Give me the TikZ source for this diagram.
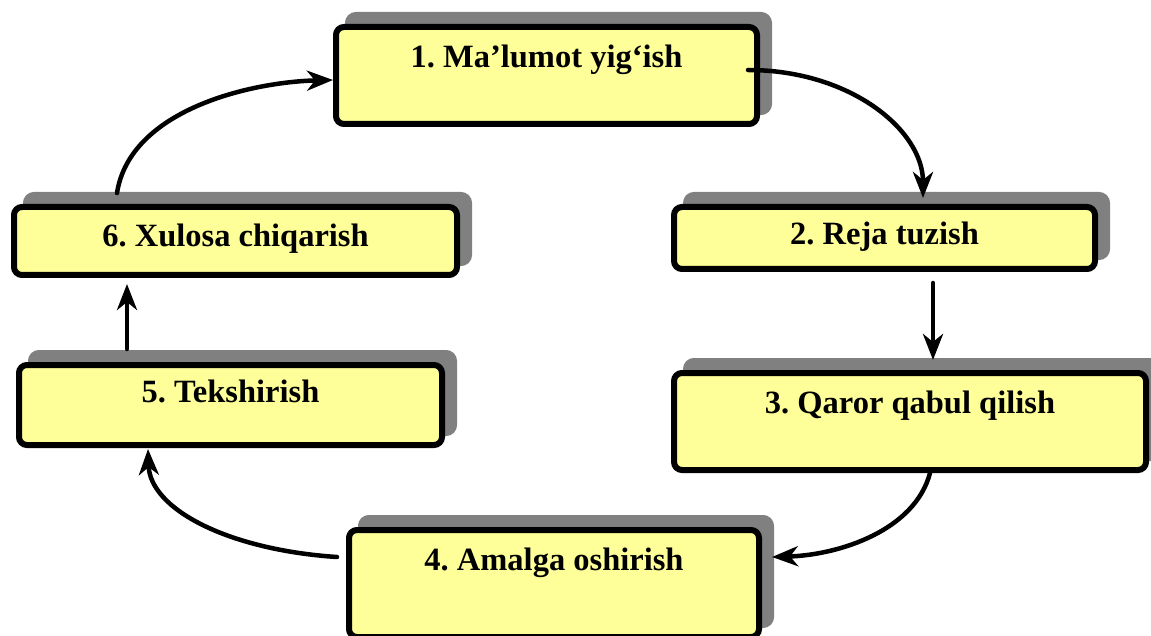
\documentclass[tikz,border=0pt]{standalone}
\usepackage{fontspec}
\setmainfont{Liberation Serif}
\usetikzlibrary{shadows,calc,arrows.meta}
\definecolor{boxfill}{HTML}{FFFF99}
\definecolor{shadowgray}{HTML}{808080}
\frenchspacing
\begin{document}
\begin{tikzpicture}[x=1pt,y=-1pt,
  stepbox/.style={draw=black, line width=6pt, fill=boxfill, rounded corners=8pt,
    inner sep=0pt, outer sep=0pt, anchor=north west, align=center,
    font=\fontsize{32.5}{38}\selectfont\bfseries\frenchspacing,
    copy shadow={shadow xshift=12pt, shadow yshift=12pt, fill=shadowgray, draw=shadowgray, line width=6pt}},
  flow/.style={line width=4.5pt, line cap=round, -{Stealth[length=26pt,width=20pt,inset=8pt]}}]
\useasboundingbox (0,0) rectangle (1151,636);
\node[stepbox, minimum width=421pt, text height=41pt, text depth=56pt] (b1) at (336,27) {1. Ma’lumot yig‘ish};
\node[stepbox, minimum width=421pt, text height=38pt, text depth=24pt] (b2) at (674,207) {2. Reja tuzish};
\node[stepbox, minimum width=472pt, text height=40pt, text depth=57pt] (b3) at (674,373) {3. Qaror qabul qilish};
\node[stepbox, minimum width=410pt, text height=40pt, text depth=67pt] (b4) at (349,530) {4. Amalga oshirish};
\node[stepbox, minimum width=423pt, text height=37pt, text depth=43pt] (b5) at (19,365) {5. Tekshirish};
\node[stepbox, minimum width=443pt, text height=40pt, text depth=28pt] (b6) at (14,207) {6. Xulosa chiqarish};
% connectors
\draw[flow] ($(b1.north east)+(-9,43)$) .. controls +(102,0) and +(0,-68) .. ($(b2.north west)+(249,-9)$);
\draw[flow] ($(b2.south west)+(259,14)$) -- ($(b3.north west)+(259,-13)$);
\draw[flow] ($(b3.south west)+(256,3)$) .. controls +(-15,57) and +(68,-2) .. ($(b4.north east)+(13,27)$);
\draw[flow] ($(b4.north west)+(-12,27)$) .. controls +(-107,-7) and +(2,61) .. ($(b5.south west)+(129,4)$);
\draw[flow] ($(b5.north west)+(108,-16)$) -- ($(b6.south west)+(113,9)$);
\draw[flow] ($(b6.north west)+(103,-14)$) .. controls +(13,-83) and +(-83,2) .. ($(b1.north west)+(-3,53)$);
\end{tikzpicture}
\end{document}
